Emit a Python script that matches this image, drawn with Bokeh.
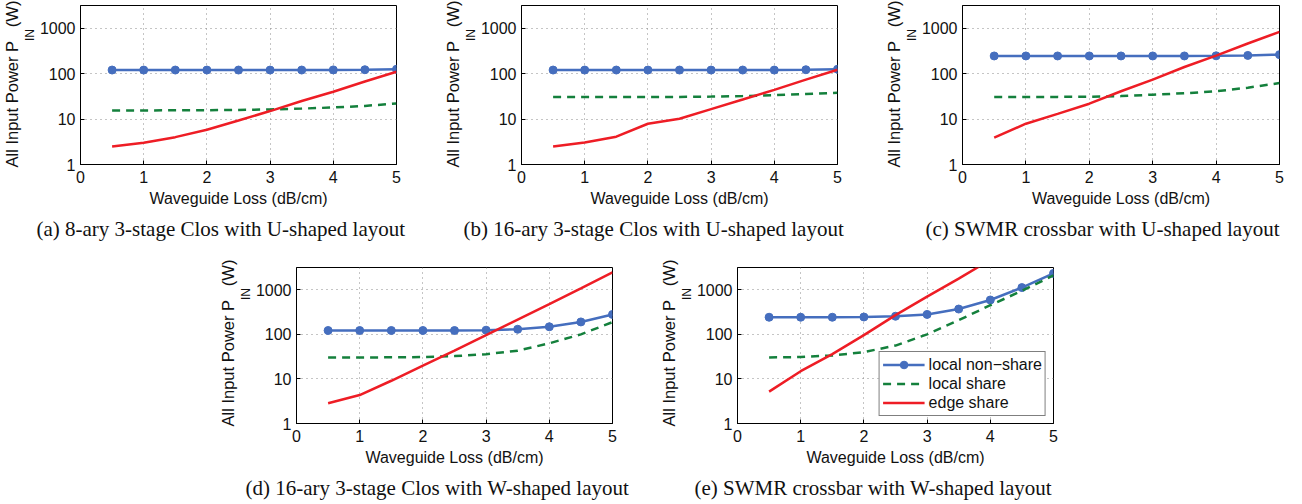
from bokeh.plotting import figure
from bokeh.layouts import row, column
from bokeh.models import (Range1d, FixedTicker, PrintfTickFormatter, Spacer, Title,
                          Legend, LegendItem)
from bokeh.embed import file_html
from bokeh.resources import INLINE

# ---------------- data ----------------
loss = [0.5, 1.0, 1.5, 2.0, 2.5, 3.0, 3.5, 4.0, 4.5, 5.0]

a_nonshare = [120, 120, 120, 120, 120, 120, 120, 121, 122, 125]
a_share = [15.5, 15.5, 15.6, 15.7, 15.9, 16.3, 17, 18, 19.5, 22]
a_edge = [2.5, 3.0, 4.0, 5.8, 9.3, 15, 25, 40, 67, 110]

b_nonshare = [120, 120, 120, 120, 120, 120, 120, 120, 122, 125]
b_share = [30.5, 30.5, 30.5, 30.6, 30.8, 31.2, 32, 33.5, 35.5, 38]
b_edge = [2.5, 3.05, 4.1, 7.9, 10.2, 16.6, 27, 44, 74, 122]

c_nonshare = [245, 245, 245, 245, 245, 245, 245, 247, 252, 262]
c_share = [30.5, 30.5, 30.8, 31, 32, 34.5, 37, 41, 49, 62]
c_edge = [3.9, 7.9, 13, 21.8, 41, 74, 140, 250, 460, 830]

d_nonshare = [122, 122, 122, 122, 122, 124, 130, 148, 190, 280]
d_share = [30.3, 30.3, 30.5, 31, 32.5, 36, 43, 63, 100, 188]
d_edge = [2.85, 4.35, 9.1, 20, 43, 96, 215, 475, 1070, 2450]

e_nonshare = [242, 242, 242, 245, 255, 280, 370, 590, 1120, 2330]
e_share = [30.3, 31, 33.6, 40, 56, 100, 208, 450, 950, 2100]
e_edge = [5.2, 14.9, 36, 96, 270, 700, 1780, 4700, 12500, 33000]

captions = [
    "(a) 8-ary 3-stage Clos with U-shaped layout",
    "(b) 16-ary 3-stage Clos with U-shaped layout",
    "(c) SWMR crossbar with U-shaped layout",
    "(d) 16-ary 3-stage Clos with W-shaped layout",
    "(e) SWMR crossbar with W-shaped layout",
]
series_names = ["local non\u2212share", "local share", "edge share"]
x_ticks = [0, 1, 2, 3, 4, 5]
y_ticks = [1, 10, 100, 1000]
y_tick_labels = ["1", "10", "100", "1000"]
x_label = "Waveguide Loss (dB/cm)"
y_label_main = "All Input Power P\u00a0\u00a0\u00a0(W)"
y_label_sub = "IN"

BLUE = "#456EBE"
GREEN = "#14803C"
RED = "#EE1D25"
SANS = "Liberation Sans"
SERIF = "Liberation Serif"
INK = "#111111"


def make_panel(caption, cap_off, nonshare, share, edge, width, height,
               b_top, b_bottom, b_right, legend=False):
    p = figure(width=width, height=height, x_range=Range1d(0, 5),
               y_range=Range1d(1, 10 ** 3.5), y_axis_type="log",
               output_backend="svg", toolbar_location=None,
               min_border_left=77, min_border_right=b_right,
               min_border_top=b_top, min_border_bottom=b_bottom)
    p.outline_line_color = "black"
    p.outline_line_alpha = 1.0
    p.outline_line_width = 1
    p.background_fill_color = "white"
    p.border_fill_color = "white"

    p.xaxis.ticker = FixedTicker(ticks=x_ticks)
    p.yaxis.ticker = FixedTicker(ticks=y_ticks)
    p.yaxis.formatter = PrintfTickFormatter(format="%d")
    p.yaxis.major_label_overrides = {float(t): l for t, l in zip(y_ticks, y_tick_labels)}
    for ax in (p.xaxis, p.yaxis):
        ax.axis_line_color = "black"
        ax.major_tick_in = 4
        ax.major_tick_out = 0
        ax.major_tick_line_color = "black"
        ax.minor_tick_line_color = None
        ax.major_label_text_font = SANS
        ax.major_label_text_font_size = "16px"
        ax.major_label_text_color = INK
    p.xaxis.major_label_standoff = 6
    p.yaxis.major_label_standoff = 5
    p.xaxis.axis_label = x_label
    p.xaxis.axis_label_text_font = SANS
    p.xaxis.axis_label_text_font_size = "16px"
    p.xaxis.axis_label_text_font_style = "normal"
    p.xaxis.axis_label_text_color = INK
    p.xaxis.axis_label_standoff = 4

    p.xgrid.ticker = FixedTicker(ticks=[1, 2, 3, 4])
    p.ygrid.ticker = FixedTicker(ticks=[10, 100, 1000])
    for g in (p.xgrid, p.ygrid):
        g.grid_line_color = "#8a8a8a"
        g.grid_line_dash = "1 4"
        g.grid_line_width = 1

    r_blue_line = p.line(loss, nonshare, line_color=BLUE, line_width=2.5)
    r_blue_pts = p.scatter(loss, nonshare, marker="circle", size=8,
                           fill_color=BLUE, line_color=BLUE)
    r_green = p.line(loss, share, line_color=GREEN, line_width=2.5, line_dash="8 6")
    r_red = p.line(loss, edge, line_color=RED, line_width=2.5)

    # y axis label with subscript, as titles in the left panel
    t_sub = Title(text=y_label_sub, align="left", offset=123.5, standoff=0,
                  text_font=SANS, text_font_size="12px", text_font_style="normal",
                  text_color=INK)
    t_main = Title(text=y_label_main, align="left", offset=-3, standoff=0,
                   text_font=SANS, text_font_size="16.5px", text_font_style="normal",
                   text_color=INK)
    p.add_layout(t_sub, "left")
    p.add_layout(t_main, "left")
    # caption below
    t_cap = Title(text=caption, align="left", offset=cap_off, standoff=10,
                  text_font=SERIF, text_font_size="21px", text_font_style="normal",
                  text_color=INK)
    p.add_layout(t_cap, "below")

    if legend:
        leg = Legend(items=[
            LegendItem(label=series_names[0], renderers=[r_blue_line, r_blue_pts]),
            LegendItem(label=series_names[1], renderers=[r_green]),
            LegendItem(label=series_names[2], renderers=[r_red]),
        ], location="bottom_right")
        leg.margin = 7
        leg.padding = 3
        leg.spacing = 0
        leg.glyph_width = 42
        leg.glyph_height = 19
        leg.label_height = 19
        leg.label_standoff = 4
        leg.label_text_font = SANS
        leg.label_text_font_size = "16px"
        leg.label_text_color = INK
        leg.border_line_color = "black"
        leg.border_line_width = 1
        leg.background_fill_color = "white"
        leg.background_fill_alpha = 1.0
        p.add_layout(leg, "center")
    return p


pa = make_panel(captions[0], -44, a_nonshare, a_share, a_edge, 441, 250, 5, 86, 45)
pb = make_panel(captions[1], -58, b_nonshare, b_share, b_edge, 441, 250, 5, 86, 45)
pc = make_panel(captions[2], -37, c_nonshare, c_share, c_edge, 412, 250, 5, 86, 15)
pd = make_panel(captions[3], -51, d_nonshare, d_share, d_edge, 441, 254, 17, 78, 45)
pe = make_panel(captions[4], -43, e_nonshare, e_share, e_edge, 411, 254, 17, 78, 15,
                legend=True)

top = row(pa, pb, pc)
bottom = row(Spacer(width=216, height=254), pd, pe)
root = column(top, bottom)

open("out.html", "w").write(file_html(root, INLINE))
